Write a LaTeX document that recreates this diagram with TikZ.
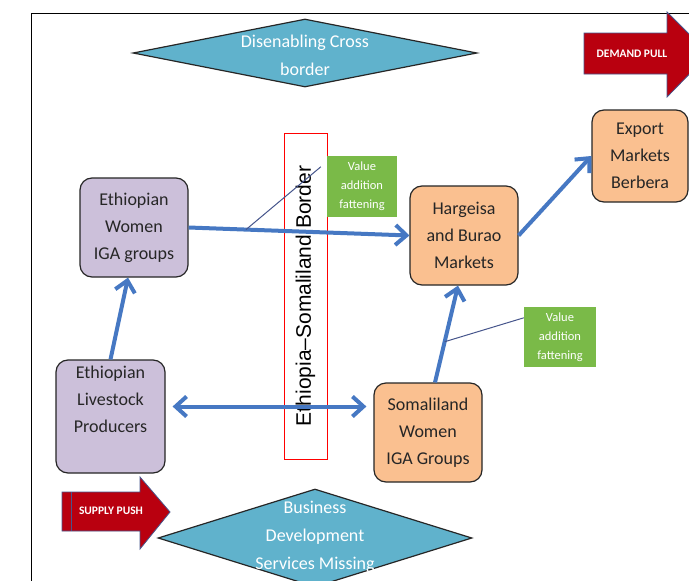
\documentclass[tikz,border=0pt]{standalone}
\usepackage{fontspec}
\setmainfont{Carlito}
\newfontfamily\arialfont{Liberation Sans}
\usepackage[dvipsnames]{xcolor}
\usetikzlibrary{arrows.meta}
\usetikzlibrary{shapes.geometric}
\usetikzlibrary{positioning}
\definecolor{lilac}{RGB}{204,192,218}
\definecolor{peach}{RGB}{250,192,144}
\definecolor{leaf}{RGB}{122,186,72}
\definecolor{aqua}{RGB}{96,178,204}
\definecolor{flowblue}{RGB}{70,120,195}
\definecolor{pushred}{RGB}{185,0,15}
\definecolor{edgeblue}{RGB}{70,85,140}
\tikzset{>={Straight Barb[length=11pt,width=20pt]}}
\tikzset{stagebox/.style = {draw=black!85, line width=1.2pt, rounded corners=12pt, minimum width=108pt, minimum height=99pt, inner sep=0, align=center, text=black!85, font=\fontsize{18}{27}\selectfont}}
\tikzset{ethbox/.style = {stagebox, fill=lilac}}
\tikzset{sombox/.style = {stagebox, fill=peach}}
\tikzset{valbox/.style = {fill=leaf, inner sep=0, align=center, text=white, font=\fontsize{12.5}{19}\selectfont}}
\tikzset{gapdiamond/.style = {diamond, draw=black!85, line width=1.2pt, fill=aqua, inner sep=0}}
\tikzset{gaptext/.style = {align=center, text=white, font=\fontsize{18}{28}\selectfont}}
\tikzset{flow/.style = {draw=flowblue, line width=4pt, ->}}
\tikzset{calloutline/.style = {draw=edgeblue, line width=1pt}}
\tikzset{blockarrow/.style = {fill=pushred, draw=edgeblue, line width=0.8pt}}
\tikzset{blocktext/.style = {text=white, font=\bfseries\fontsize{11.5}{12}\selectfont}}

\begin{document}
\begin{tikzpicture}[x=1pt,y=-1pt]
        \clip (0,0) rectangle (689,581);
        \fill[white] (0,0) rectangle (689,581);
        \draw[line width=1pt] (31,581) -- (31,13) -- (689,13);
        % push and pull
        \filldraw[blockarrow] (584,33) -- (667,33) -- (667,12) -- (709,54) -- (667,97) -- (667,74) -- (584,74) -- cycle;
        \node[blocktext] (DemandPull) at (632,54) {DEMAND PULL};
        \filldraw[blockarrow] (62,492) -- (140,492) -- (140,477) -- (170,512) -- (140,549) -- (140,531) -- (62,531) -- cycle;
        \draw[edgeblue, line width=0.8pt] (71,492) -- (71,531);
        \node[blocktext] (SupplyPush) at (111,511) {SUPPLY PUSH};
        % gaps
        \node[gapdiamond, minimum width=344pt, minimum height=68pt] (DisenablingGap) at (305,53) {};
        \node[gaptext] (Disenabling) at (305,55) {Disenabling Cross\\border};
        \node[gapdiamond, minimum width=314pt, minimum height=98pt] (BusinessDevGap) at (315,538) {};
        \node[gaptext] (BusinessDev) at (315,537) {Business\\Development\\Services Missing};
        % border
        \node[draw=red, line width=1pt, rotate=90, minimum width=326pt, minimum height=43pt, inner sep=0, font=\arialfont\fontsize{21}{21}\selectfont] (Border) at (305.5,296) {Ethiopia–Somaliland Border};
        % actors
        \node[ethbox] (EthWomen) at (134,227.5) {Ethiopian\\Women\\IGA groups};
        \node[ethbox, minimum width=109pt, minimum height=113pt] (EthLivestock) at (110.5,416.5) {Ethiopian\\Livestock\\Producers\\\strut};
        \node[sombox] (HargeisaBurao) at (464,235.5) {Hargeisa\\and Burao\\Markets};
        \node[sombox] (SomWomen) at (428,432.5) {Somaliland\\Women\\IGA Groups};
        \node[sombox, minimum width=96pt, minimum height=92pt] (ExportBerbera) at (640,156) {Export\\Markets\\Berbera};
        \node[valbox, minimum width=70pt, minimum height=61pt] (ValueAddA) at (362,186.5) {Value\\addition\\fattening};
        \node[valbox, minimum width=72pt, minimum height=60pt] (ValueAddB) at (560,337) {Value\\addition\\fattening};
        % flows
        \draw[flow] (EthLivestock.north) -- ([xshift=-6pt]EthWomen.south);
        \draw[flow] (EthWomen.east) -- coordinate[pos=0.26] (ValueAddAFoot) (HargeisaBurao.west);
        \draw[flow] (HargeisaBurao.east) -- (ExportBerbera.west);
        \draw[flow] ([xshift=7pt]SomWomen.north) -- coordinate[pos=0.42] (ValueAddBFoot) ([xshift=-6pt]HargeisaBurao.south);
        \draw[flow, <->, shorten <=7pt, shorten >=7pt] ([yshift=10pt]EthLivestock.east) -- ([yshift=10pt]EthLivestock.east -| SomWomen.west);
        \draw[calloutline] (ValueAddAFoot) -- ([shift={(-6pt,-11pt)}]ValueAddA.north west);
        \draw[calloutline] (ValueAddBFoot) -- ([yshift=-11pt]ValueAddB.north west);
    \end{tikzpicture}
\end{document}
